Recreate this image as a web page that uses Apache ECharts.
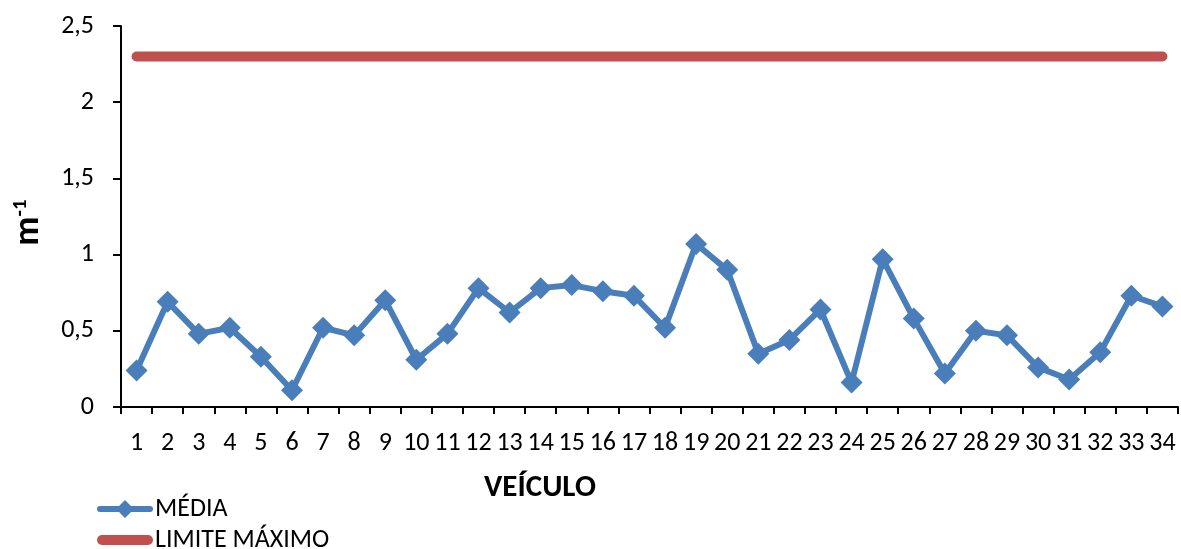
<!DOCTYPE html>
<html>
<head>
<meta charset="utf-8">
<script src="https://cdn.jsdelivr.net/npm/echarts@6/dist/echarts.min.js"></script>
<style>
  html, body { margin: 0; padding: 0; background: #fff; }
  #chart { width: 1181px; height: 549px; }
</style>
</head>
<body>
<div id="chart"></div>
<script>
// Vehicle numbers along the x axis
const veiculos = ['1','2','3','4','5','6','7','8','9','10','11','12','13','14','15','16','17',
  '18','19','20','21','22','23','24','25','26','27','28','29','30','31','32','33','34'];

// Mean opacity per vehicle (m^-1)
const media = [0.24, 0.69, 0.48, 0.52, 0.33, 0.11, 0.52, 0.47, 0.70, 0.31, 0.48, 0.78, 0.62,
  0.78, 0.80, 0.76, 0.73, 0.52, 1.07, 0.90, 0.35, 0.44, 0.64, 0.16, 0.97, 0.58,
  0.22, 0.50, 0.47, 0.26, 0.18, 0.36, 0.73, 0.66];

// Maximum allowed limit
const limiteValor = 2.3;
const limite = veiculos.map(() => limiteValor);

const FONT = 'Carlito, Lato, "Liberation Sans", sans-serif';
const AZUL = '#4A7EBB';
const VERMELHO = '#C0504D';

// Legend keys: thick line with a diamond, and a plain rounded bar
const ICONE_MEDIA = 'path://M3,7 L22,7 L28,1 L34,7 L53,7 A3,3 0 0 1 53,13 L34,13 L28,19 L22,13 L3,13 A3,3 0 0 1 3,7 Z';
const ICONE_LIMITE = 'path://M5,0 L51,0 A5,5 0 0 1 51,10 L5,10 A5,5 0 0 1 5,0 Z';

const legendaBase = {
  orient: 'vertical',
  left: 97,
  padding: 0,
  itemWidth: 56,
  itemHeight: 18,
  itemGap: 4,
  textStyle: { fontFamily: FONT, fontSize: 26, lineHeight: 20, color: '#000', padding: [0, 0, 0, -3] }
};

const chart = echarts.init(document.getElementById('chart'), null, { renderer: 'canvas' });

chart.setOption({
  animation: false,
  backgroundColor: '#ffffff',
  textStyle: { fontFamily: FONT, color: '#000' },
  grid: { left: 121, right: 3, top: 26, bottom: 142, containLabel: false, outerBoundsMode: 'none' },
  legend: [
    Object.assign({}, legendaBase, {
      top: 496,
      data: [{ name: 'MÉDIA', icon: ICONE_MEDIA, itemStyle: { color: AZUL } }]
    }),
    Object.assign({}, legendaBase, {
      top: 527,
      data: [{ name: 'LIMITE MÁXIMO', icon: ICONE_LIMITE, itemStyle: { color: VERMELHO } }]
    })
  ],
  xAxis: {
    type: 'category',
    data: veiculos,
    boundaryGap: true,
    axisLine: { lineStyle: { color: '#000', width: 2 } },
    axisTick: { show: true, length: 7, alignWithLabel: false, interval: 0, lineStyle: { color: '#000', width: 2 } },
    axisLabel: { interval: 0, fontSize: 26, color: '#000', margin: 23, fontFamily: FONT },
    splitLine: { show: false }
  },
  yAxis: {
    type: 'value',
    min: 0,
    max: 2.5,
    interval: 0.5,
    name: '{b|m}{s|-1}',
    nameLocation: 'middle',
    nameRotate: 90,
    nameGap: 74,
    nameTextStyle: {
      padding: [0, 12, 0, 0],
      rich: {
        b: { fontSize: 36, fontWeight: 'bold', fontFamily: FONT, color: '#000' },
        s: { fontSize: 21, fontWeight: 'bold', fontFamily: FONT, color: '#000', verticalAlign: 'top', padding: [0, 0, 16, 0] }
      }
    },
    axisLine: { show: true, lineStyle: { color: '#000', width: 2 } },
    axisTick: { show: true, length: 8, lineStyle: { color: '#000', width: 2 } },
    axisLabel: {
      fontSize: 26, color: '#000', margin: 27, fontFamily: FONT,
      formatter: v => String(v).replace('.', ',')
    },
    splitLine: { show: false }
  },
  graphic: [{
    type: 'text',
    left: 484,
    top: 473,
    style: { text: 'VEÍCULO', font: 'bold 31px ' + FONT, fill: '#000' }
  }],
  series: [
    {
      name: 'MÉDIA',
      type: 'line',
      data: media,
      symbol: 'diamond',
      symbolSize: 22,
      color: AZUL,
      lineStyle: { width: 6, color: AZUL },
      itemStyle: { color: AZUL },
      z: 3
    },
    {
      name: 'LIMITE MÁXIMO',
      type: 'line',
      data: limite,
      symbol: 'none',
      color: VERMELHO,
      lineStyle: { width: 10, color: VERMELHO, cap: 'round' },
      z: 2
    }
  ]
});
</script>
</body>
</html>
